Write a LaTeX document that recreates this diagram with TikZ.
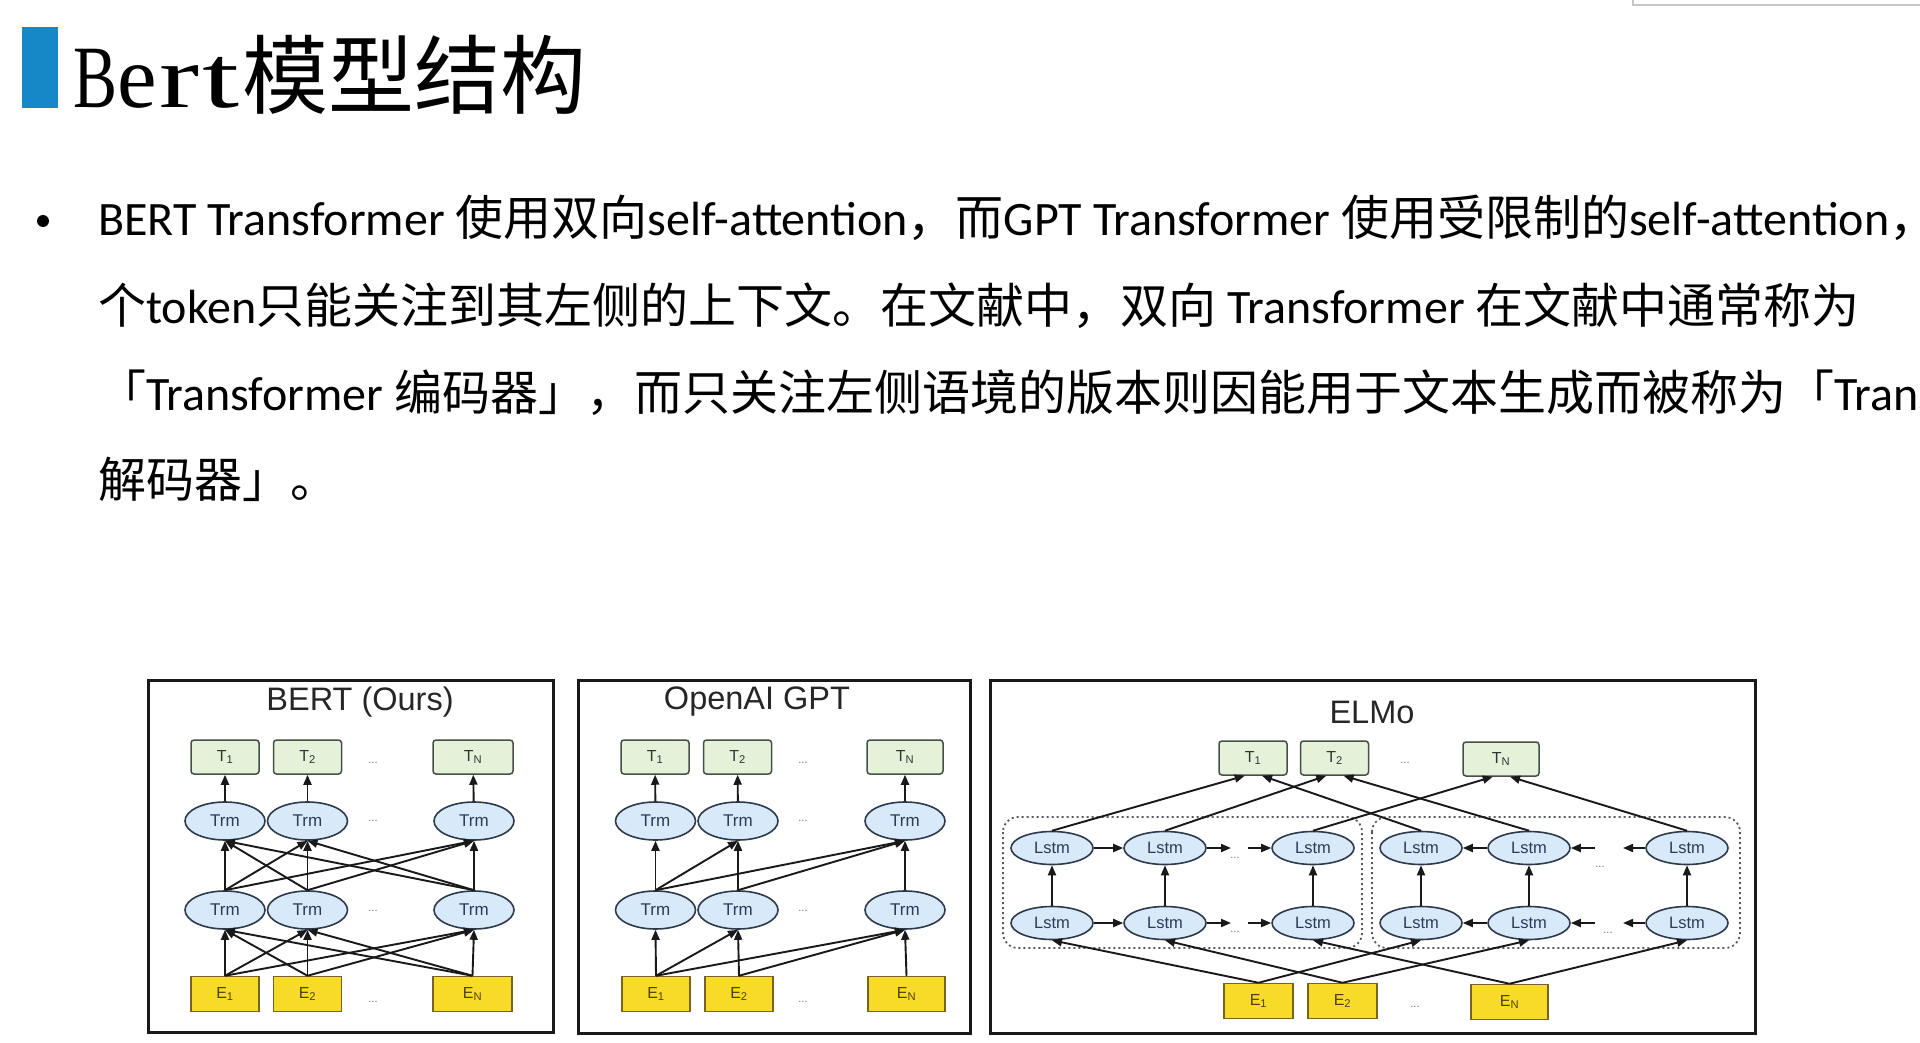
\documentclass[tikz,border=0pt]{standalone}
\usepackage{fontspec}
\usetikzlibrary{shapes.geometric,arrows.meta,calc}
\newfontfamily\cjkf{Noto Sans CJK SC}
\newfontfamily\arialf{Liberation Sans}
\newfontfamily\seriff{Liberation Serif}
\newfontfamily\carlf{Carlito}
\newcommand\enw[1]{{\carlf #1}}
\newcommand\bertch[2]{\makebox[42pt][c]{\scalebox{#1}[1]{#2}}}
\definecolor{barblue}{RGB}{22,136,200}
\definecolor{tfill}{RGB}{228,242,218}
\definecolor{tdraw}{RGB}{70,80,70}
\definecolor{trmfill}{RGB}{216,234,250}
\definecolor{trmdraw}{RGB}{45,58,75}
\definecolor{trmtext}{RGB}{40,60,90}
\definecolor{efill}{RGB}{248,218,40}
\definecolor{edraw}{RGB}{120,100,30}
\definecolor{etext}{RGB}{80,65,10}
\definecolor{dotgray}{RGB}{110,110,110}
\begin{document}
\begin{tikzpicture}[x=1pt,y=-1pt,
  tbox/.style={draw=tdraw, fill=tfill, line width=1.5pt, rounded corners=3pt, minimum width=68pt, minimum height=34pt, inner sep=0pt, font=\arialf\fontsize{16}{16}\selectfont, text=black!80},
  ebox/.style={draw=edraw, fill=efill, line width=1.5pt, minimum width=68pt, minimum height=35pt, inner sep=0pt, font=\arialf\fontsize{16}{16}\selectfont, text=etext},
  trm/.style={ellipse, draw=trmdraw, fill=trmfill, line width=1.6pt, minimum width=80pt, minimum height=38pt, inner sep=0pt, font=\arialf\fontsize{17}{17}\selectfont, text=trmtext},
  lstm/.style={ellipse, draw=trmdraw, fill=trmfill, line width=1.6pt, minimum width=82pt, minimum height=33pt, inner sep=0pt, font=\arialf\fontsize{16.5}{16.5}\selectfont, text=trmtext},
  dots/.style={inner sep=0pt, font=\arialf\fontsize{11}{11}\selectfont, text=dotgray},
  ptitle/.style={inner sep=0pt, font=\arialf\fontsize{32.5}{32.5}\selectfont, text=black!85},
  arr/.style={-{Triangle[length=10pt,width=8pt]}, line width=1.9pt, draw=black!90},
  frame/.style={line width=3pt, draw=black!90},
  dotbox/.style={line width=1.8pt, draw=black!65, dash pattern=on 2pt off 3pt, rounded corners=15pt},
  body/.style={anchor=base west, inner sep=0pt, font=\cjkf\fontsize{48}{48}\selectfont}
]
\path[use as bounding box, fill=white] (0,0) rectangle (1920,1043);
\draw[black!22, line width=1.5pt] (1633,0) -- (1633,5) -- (1920,5);

% title
\fill[barblue] (22,27) rectangle (58,108);
\node[anchor=base west, inner sep=0pt] (title) at (74,108) {{\seriff\fontsize{89}{89}\selectfont\bertch{0.74}{B}\bertch{1.0}{e}\bertch{1.35}{r}\bertch{1.5}{t}}{\cjkf\fontsize{86}{86}\selectfont 模型结构}};

% body text
\fill[black] (43,221) circle (6pt);
\begin{scope}
\clip (0,0) rectangle (1920,1043);
\node[body] (l1) at (98,236) {\enw{BERT Transformer }使用双向\enw{self-attention}，而\enw{GPT Transformer }使用受限制的\enw{self-attention}，};
\node[body] (l2) at (98,323) {个\enw{token}只能关注到其左侧的上下文。在文献中，双向\enw{ Transformer }在文献中通常称为};
\node[body] (l3) at (98,410) {「\enw{Transformer }编码器」，而只关注左侧语境的版本则因能用于文本生成而被称为「\enw{Trans}};
\node[body] (l4) at (98,497) {解码器」。};
\end{scope}

% ===== BERT panel =====
\draw[frame] (148,680) rectangle (553,1032);
\node[ptitle] (bt) at (360,702) {BERT (Ours)};
\node[tbox] (bT1) at (225,757) {T\textsubscript{1}};
\node[tbox] (bT2) at (307.5,757) {T\textsubscript{2}};
\node[tbox, minimum width=80pt] (bTN) at (473,757) {T\textsubscript{N}};
\node[trm] (bU1) at (225,821) {Trm};
\node[trm] (bU2) at (307.5,821) {Trm};
\node[trm] (bUN) at (474,821) {Trm};
\node[trm] (bL1) at (225,910) {Trm};
\node[trm] (bL2) at (307.5,910) {Trm};
\node[trm] (bLN) at (474,910) {Trm};
\node[ebox] (bE1) at (225,994) {E\textsubscript{1}};
\node[ebox] (bE2) at (307.5,994) {E\textsubscript{2}};
\node[ebox, minimum width=79pt] (bEN) at (472.5,994) {E\textsubscript{N}};
\node[dots] (bd1) at (373,763) {...};
\node[dots] (bd2) at (373,821) {...};
\node[dots] (bd3) at (373,911) {...};
\node[dots] (bd4) at (373,1002) {...};
\foreach \s in {bE1,bE2,bEN}{\foreach \t in {bL1,bL2,bLN}{\draw[arr] (\s.north) -- (\t.south);}}
\foreach \s in {bL1,bL2,bLN}{\foreach \t in {bU1,bU2,bUN}{\draw[arr] (\s.north) -- (\t.south);}}
\draw[arr] (bU1) -- (bT1);
\draw[arr] (bU2) -- (bT2);
\draw[arr] (bUN) -- (bTN);

% ===== GPT panel =====
\draw[frame] (578,680) rectangle (970,1033);
\node[ptitle] (gt) at (757,702) {OpenAI GPT};
\node[tbox] (gT1) at (655,757) {T\textsubscript{1}};
\node[tbox] (gT2) at (737.5,757) {T\textsubscript{2}};
\node[tbox, minimum width=76pt] (gTN) at (905,757) {T\textsubscript{N}};
\node[trm] (gU1) at (655.5,821) {Trm};
\node[trm] (gU2) at (738,821) {Trm};
\node[trm] (gUN) at (905,821) {Trm};
\node[trm] (gL1) at (655.5,910) {Trm};
\node[trm] (gL2) at (738,910) {Trm};
\node[trm] (gLN) at (905,910) {Trm};
\node[ebox] (gE1) at (656,994) {E\textsubscript{1}};
\node[ebox] (gE2) at (739,994) {E\textsubscript{2}};
\node[ebox, minimum width=77pt] (gEN) at (906.5,994) {E\textsubscript{N}};
\node[dots] (gd1) at (803,763) {...};
\node[dots] (gd2) at (803,821) {...};
\node[dots] (gd3) at (803,911) {...};
\node[dots] (gd4) at (803,1002) {...};
\foreach \s/\t in {gE1/gL1,gE1/gL2,gE1/gLN,gE2/gL2,gE2/gLN,gEN/gLN,gL1/gU1,gL1/gU2,gL1/gUN,gL2/gU2,gL2/gUN,gLN/gUN}{\draw[arr] (\s.north) -- (\t.south);}
\draw[arr] (gU1) -- (gT1);
\draw[arr] (gU2) -- (gT2);
\draw[arr] (gUN) -- (gTN);

% ===== ELMo panel =====
\draw[frame] (990,680) rectangle (1755,1033);
\node[ptitle] (et) at (1372,712) {ELMo};
\node[tbox] (eT1) at (1253,758) {T\textsubscript{1}};
\node[tbox] (eT2) at (1334.5,758) {T\textsubscript{2}};
\node[tbox, minimum width=76pt] (eTN) at (1501,759) {T\textsubscript{N}};
\node[dots] (ed0) at (1405,763) {...};
\draw[dotbox] (1003,817) rectangle (1362,948);
\draw[dotbox] (1372,817) rectangle (1740,948);
\foreach \i/\x in {1/1052,2/1165,3/1313,4/1421,5/1529,6/1687}{
  \node[lstm] (eU\i) at (\x,848) {Lstm};
  \node[lstm] (eL\i) at (\x,923) {Lstm};
}
\node[ebox, minimum width=69pt] (eE1) at (1258.5,1001) {E\textsubscript{1}};
\node[ebox, minimum width=69pt] (eE2) at (1342.5,1001) {E\textsubscript{2}};
\node[ebox, minimum width=77pt] (eEN) at (1509.5,1002) {E\textsubscript{N}};
\node[dots] (ed5) at (1415,1007) {...};
\node[dots] (ed1) at (1235,858) {...};
\node[dots] (ed2) at (1235,932) {...};
\node[dots] (ed3) at (1600,867) {...};
\node[dots] (ed4) at (1608,933) {...};
\coordinate (lA1) at (1231,848); \coordinate (lA2) at (1248,848);
\coordinate (lB1) at (1231,923); \coordinate (lB2) at (1248,923);
\coordinate (rA1) at (1595,848); \coordinate (rA2) at (1623,848);
\coordinate (rB1) at (1595,923); \coordinate (rB2) at (1623,923);
% forward LSTM
\draw[arr] (eU1) -- (eU2); \draw[arr] (eU2) -- (lA1); \draw[arr] (lA2) -- (eU3);
\draw[arr] (eL1) -- (eL2); \draw[arr] (eL2) -- (lB1); \draw[arr] (lB2) -- (eL3);
% backward LSTM
\draw[arr] (eU5) -- (eU4); \draw[arr] (rA1) -- (eU5); \draw[arr] (eU6) -- (rA2);
\draw[arr] (eL5) -- (eL4); \draw[arr] (rB1) -- (eL5); \draw[arr] (eL6) -- (rB2);
\foreach \i in {1,...,6}{\draw[arr] (eL\i) -- (eU\i);}
% to outputs
\draw[arr] (eU1.north) -- (eT1.-115);
\draw[arr] (eU4.north) -- (eT1.-63);
\draw[arr] (eU2.north) -- (eT2.-115);
\draw[arr] (eU5.north) -- (eT2.-63);
\draw[arr] (eU3.north) -- (eTN.-115);
\draw[arr] (eU6.north) -- (eTN.-63);
% from inputs
\draw[arr] (eE1.north) -- (eL1.south);
\draw[arr] (eE1.north) -- (eL4.south);
\draw[arr] (eE2.north) -- (eL2.south);
\draw[arr] (eE2.north) -- (eL5.south);
\draw[arr] (eEN.north) -- (eL3.south);
\draw[arr] (eEN.north) -- (eL6.south);
\end{tikzpicture}
\end{document}
